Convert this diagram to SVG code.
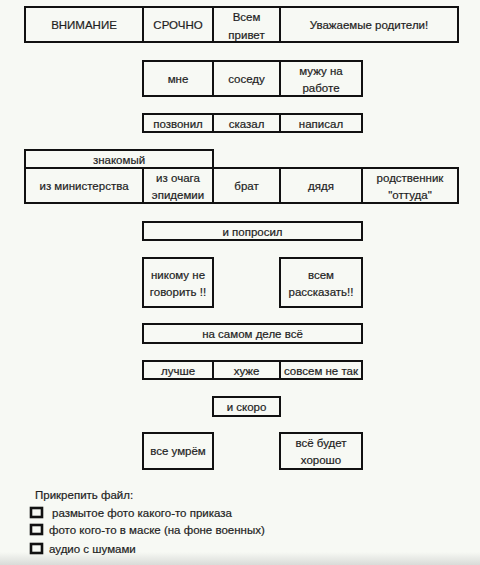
<svg xmlns="http://www.w3.org/2000/svg" width="480" height="565" viewBox="0 0 480 565">
<defs>
<linearGradient id="bot" x1="0" y1="0" x2="0" y2="1">
<stop offset="0" stop-color="#f7f9f4"/>
<stop offset="1" stop-color="#d9dbd8"/>
</linearGradient>
</defs>
<style>
.b{fill:none;stroke:#111;stroke-width:2}
.c{fill:none;stroke:#111;stroke-width:2.6}
.d{stroke:#111;stroke-width:2}
text{font-family:"Liberation Sans",Arial,sans-serif;font-size:11.5px;fill:#1e1e1e;stroke:#1e1e1e;stroke-width:0.2;text-anchor:middle}
.l{text-anchor:start}
</style>
<rect width="480" height="565" fill="#f7f9f4"/>
<rect y="552" width="480" height="13" fill="url(#bot)"/>
<g id="row1">
<rect class="b" x="25" y="7" width="433" height="35"/>
<line class="d" x1="143" y1="7" x2="143" y2="42"/>
<line class="d" x1="213" y1="7" x2="213" y2="42"/>
<line class="d" x1="280" y1="7" x2="280" y2="42"/>
<text x="84" y="29">ВНИМАНИЕ</text>
<text x="178" y="29">СРОЧНО</text>
<text x="246.5" y="21">Всем</text>
<text x="246.5" y="38.5">привет</text>
<text x="369" y="29">Уважаемые родители!</text>
</g>
<g id="row2">
<rect class="b" x="143" y="61" width="219" height="35"/>
<line class="d" x1="213" y1="61" x2="213" y2="96"/>
<line class="d" x1="280" y1="61" x2="280" y2="96"/>
<text x="178" y="83">мне</text>
<text x="246.5" y="83">соседу</text>
<text x="321" y="75">мужу на</text>
<text x="321" y="92">работе</text>
</g>
<g id="row3">
<rect class="b" x="143" y="114" width="219" height="18"/>
<line class="d" x1="213" y1="114" x2="213" y2="132"/>
<line class="d" x1="280" y1="114" x2="280" y2="132"/>
<text x="178" y="127.5">позвонил</text>
<text x="246.5" y="127.5">сказал</text>
<text x="321" y="127.5">написал</text>
</g>
<g id="znakomy">
<rect class="b" x="25" y="150" width="188" height="18"/>
<text x="119" y="163.5">знакомый</text>
</g>
<g id="row5">
<rect class="b" x="25" y="168" width="433" height="35"/>
<line class="d" x1="143" y1="168" x2="143" y2="203"/>
<line class="d" x1="213" y1="168" x2="213" y2="203"/>
<line class="d" x1="280" y1="168" x2="280" y2="203"/>
<line class="d" x1="362" y1="168" x2="362" y2="203"/>
<text x="84" y="190">из министерства</text>
<text x="178" y="182">из очага</text>
<text x="178" y="199">эпидемии</text>
<text x="246.5" y="190">брат</text>
<text x="321" y="190">дядя</text>
<text x="410" y="182">родственник</text>
<text x="410" y="199">"оттуда"</text>
</g>
<g id="poprosil">
<rect class="b" x="143" y="222" width="219" height="18"/>
<text x="252.5" y="235.5">и попросил</text>
</g>
<g id="nikomu">
<rect class="b" x="143" y="258" width="70" height="49"/>
<text x="178" y="279">никому не</text>
<text x="178" y="296">говорить !!</text>
</g>
<g id="vsem">
<rect class="b" x="280" y="258" width="82" height="49"/>
<text x="321" y="279">всем</text>
<text x="321" y="296">рассказать!!</text>
</g>
<g id="nasamom">
<rect class="b" x="143" y="324" width="219" height="19"/>
<text x="252.5" y="338">на самом деле всё</text>
</g>
<g id="row_luchshe">
<rect class="b" x="143" y="361" width="219" height="18"/>
<line class="d" x1="213" y1="361" x2="213" y2="379"/>
<line class="d" x1="280" y1="361" x2="280" y2="379"/>
<text x="178" y="374.5">лучше</text>
<text x="246.5" y="374.5">хуже</text>
<text x="321" y="374.5">совсем не так</text>
</g>
<g id="skoro">
<rect class="b" x="213" y="397" width="67" height="19"/>
<text x="246.5" y="411">и скоро</text>
</g>
<g id="umrem">
<rect class="b" x="143" y="433" width="70" height="36"/>
<text x="178" y="455">все умрём</text>
</g>
<g id="horosho">
<rect class="b" x="280" y="433" width="82" height="36"/>
<text x="321" y="447">всё будет</text>
<text x="321" y="464">хорошо</text>
</g>
<g id="attach">
<text class="l" x="35" y="499">Прикрепить файл:</text>
<rect class="c" x="31" y="508" width="11" height="9"/>
<text class="l" x="52" y="517">размытое фото какого-то приказа</text>
<rect class="c" x="31" y="525" width="11" height="9"/>
<text class="l" x="49" y="534">фото кого-то в маске (на фоне военных)</text>
<rect class="c" x="31" y="544" width="11" height="9"/>
<text class="l" x="49" y="553">аудио с шумами</text>
</g>
<g id="connectors"></g>
</svg>
